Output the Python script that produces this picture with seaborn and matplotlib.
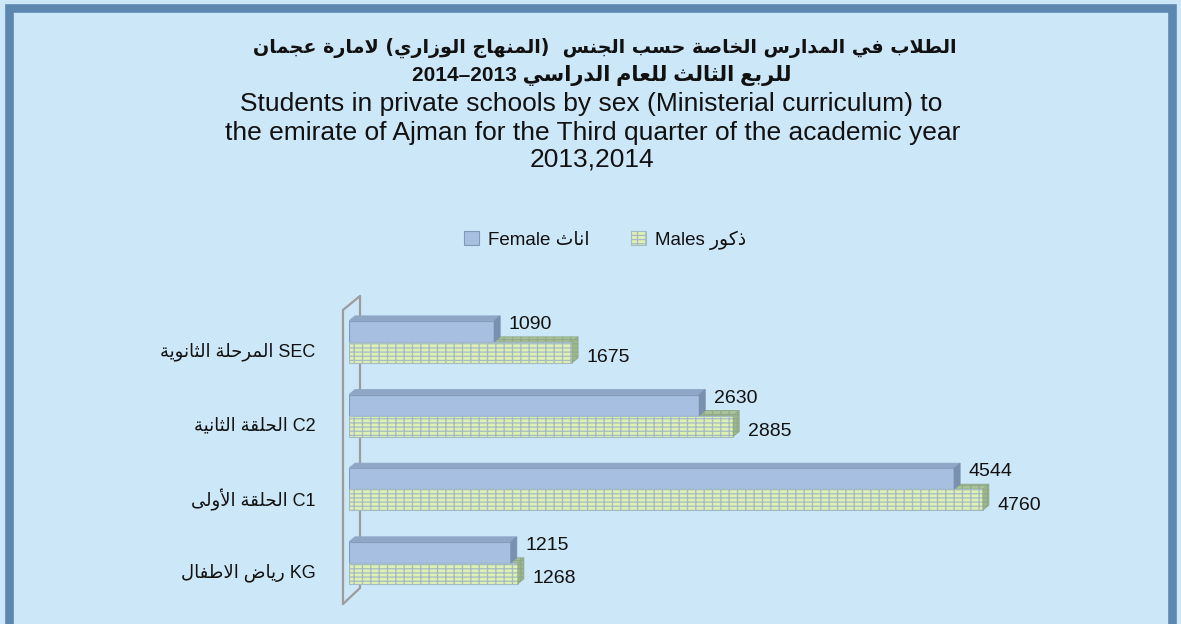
import matplotlib
matplotlib.use("Agg")
import matplotlib.pyplot as plt
import matplotlib.transforms as mtransforms
from matplotlib.patches import Polygon, Rectangle, Patch
from matplotlib.lines import Line2D
import pandas as pd
import seaborn as sns

# ---------------- data ----------------
levels = ["SEC", "C2", "C1", "KG"]
levels_ar = ["المرحلة الثانوية", "الحلقة الثانية", "الحلقة الأولى", "رياض الاطفال"]
female = [1090, 2630, 4544, 1215]
males = [1675, 2885, 4760, 1268]
series = ["Female", "Males"]
series_ar = ["اناث", "ذكور"]

title_ar1 = "الطلاب في المدارس الخاصة حسب الجنس  (المنهاج الوزاري) لامارة عجمان"
title_ar2 = "للربع الثالث للعام الدراسي"
title_years = "2014–2013"
title_en = ["Students in private schools by sex (Ministerial curriculum) to",
            "the emirate of Ajman for the Third quarter of the academic year",
            "2013,2014"]

# ---------------- minimal Arabic shaping (visual order) ----------------
TWO = {'آ': 0xFE81, 'أ': 0xFE83, 'ؤ': 0xFE85, 'إ': 0xFE87, 'ا': 0xFE8D, 'ة': 0xFE93,
       'د': 0xFEA9, 'ذ': 0xFEAB, 'ر': 0xFEAD, 'ز': 0xFEAF, 'و': 0xFEED, 'ى': 0xFEEF}
FOUR = {'ئ': 0xFE89, 'ب': 0xFE8F, 'ت': 0xFE95, 'ث': 0xFE99, 'ج': 0xFE9D, 'ح': 0xFEA1,
        'خ': 0xFEA5, 'س': 0xFEB1, 'ش': 0xFEB5, 'ص': 0xFEB9, 'ض': 0xFEBD, 'ط': 0xFEC1,
        'ظ': 0xFEC5, 'ع': 0xFEC9, 'غ': 0xFECD, 'ف': 0xFED1, 'ق': 0xFED5, 'ك': 0xFED9,
        'ل': 0xFEDD, 'م': 0xFEE1, 'ن': 0xFEE5, 'ه': 0xFEE9, 'ي': 0xFEF1}
LAMALEF = {'آ': 0xFEF5, 'أ': 0xFEF7, 'إ': 0xFEF9, 'ا': 0xFEFB}


def shape(s):
    toks = []
    i = 0
    while i < len(s):
        c = s[i]
        if c == 'ل' and i + 1 < len(s) and s[i + 1] in LAMALEF:
            toks.append(('2', LAMALEF[s[i + 1]]))
            i += 2
            continue
        if c in FOUR:
            toks.append(('4', FOUR[c]))
        elif c in TWO:
            toks.append(('2', TWO[c]))
        else:
            toks.append(('x', c))
        i += 1
    out = []
    for j, (k, b) in enumerate(toks):
        if k == 'x':
            out.append(b)
            continue
        prev = j > 0 and toks[j - 1][0] == '4'
        nxt = k == '4' and j + 1 < len(toks) and toks[j + 1][0] in '24'
        if prev and nxt:
            cp = b + 3
        elif prev:
            cp = b + 1
        elif nxt:
            cp = b + 2
        else:
            cp = b
        out.append(chr(cp))
    return ''.join(out)


def rtl(s):
    v = shape(s)[::-1]
    return v.translate(str.maketrans({'(': ')', ')': '('}))


# ---------------- style ----------------
W, H = 1181, 624
BG = "#cce7f7"
BORDER = "#5b87b0"
FEM = "#a7bfe1"
FEM_EDGE = "#8298b8"
FEM_TOP = "#8fa6c6"
FEM_SIDE = "#7a90af"
MAL = "#e0efb2"
MAL_EDGE = "#a3bcc4"
MAL_TOP = "#aac496"
MAL_SIDE = "#9db98a"
TXT = "#111111"

sns.set_theme(style="white")
plt.rcParams["font.family"] = ["Liberation Sans", "DejaVu Sans"]
plt.rcParams["hatch.linewidth"] = 0.9

fig = plt.figure(figsize=(W / 100, H / 100), dpi=100, facecolor=BG)


def fx(x):
    return x / W


def fy(y):
    return 1 - y / H


ax = fig.add_axes([fx(349), (H - 607) / H, 799 / W, 313 / H])
ax.set_facecolor("none")

df = pd.DataFrame({
    "level": levels * 2,
    "sex": [series[0]] * len(levels) + [series[1]] * len(levels),
    "students": female + males,
})

sns.barplot(data=df, x="students", y="level", hue="sex", order=levels,
            hue_order=series, palette={series[0]: FEM, series[1]: MAL},
            orient="h", width=0.57, saturation=1, legend=False,
            errorbar=None, ax=ax)

XMAX = 6000
ax.set_xlim(0, XMAX)
ax.set_ylim(3.6, -0.65)

px_x = 799 / XMAX          # px per data unit (x)
px_y = 313 / 4.25          # px per data unit (y)
dx = 6 / px_x
dy = 5 / px_y

fem_bars = ax.containers[0]
mal_bars = ax.containers[1]

for r in fem_bars:
    r.set_edgecolor(FEM_EDGE)
    r.set_linewidth(0.8)
    r.set_zorder(3)
for r in mal_bars:
    r.set_edgecolor(MAL_EDGE)
    r.set_linewidth(0.8)
    r.set_hatch("----||")
    r.set_zorder(3)


def faces(r, top_c, side_c, z_top, z_side, hatch=None, edge=None):
    w = r.get_width()
    yt = r.get_y()
    yb = yt + r.get_height()
    top = Polygon([(0, yt), (w, yt), (w + dx, yt - dy), (dx, yt - dy)], closed=True,
                  facecolor=top_c, edgecolor=edge or top_c, lw=0.6, zorder=z_top,
                  hatch=hatch)
    side = Polygon([(w, yt), (w + dx, yt - dy), (w + dx, yb - dy), (w, yb)], closed=True,
                   facecolor=side_c, edgecolor=edge or side_c, lw=0.6, zorder=z_side,
                   hatch=hatch)
    ax.add_patch(top)
    ax.add_patch(side)


for r in mal_bars:
    faces(r, MAL_TOP, MAL_SIDE, 1, 3.1, hatch="----||", edge="#8fa98a")
for r in fem_bars:
    faces(r, FEM_TOP, FEM_SIDE, 3.2, 3.2)

# value labels
for bars, vals, voff in ((fem_bars, female, 5), (mal_bars, males, -4)):
    for r, v in zip(bars, vals):
        ax.annotate(f"{v}", xy=(r.get_width(), r.get_y() + r.get_height() / 2),
                    xytext=(10.5, voff), textcoords="offset points",
                    ha="left", va="center", fontsize=14, color=TXT, zorder=5,
                    annotation_clip=False)

# axes cosmetics
for s in ax.spines.values():
    s.set_visible(False)
ax.set_xticks([])
ax.set_xlabel("")
ax.set_ylabel("")
ax.set_yticks(range(len(levels)),
              labels=[rtl(a) + " " + e for a, e in zip(levels_ar, levels)])
ax.tick_params(axis="y", length=0, pad=24, labelsize=13, labelcolor=TXT)
off = mtransforms.ScaledTranslation(0, -0.08, fig.dpi_scale_trans)
for lab in ax.get_yticklabels():
    lab.set_transform(lab.get_transform() + off)

# 3D wall (decoration)
wall_c = "#9c9c9c"
for (x1, y1, x2, y2) in [(343, 310, 343, 604), (343, 310, 360, 296),
                          (360, 296, 360, 588), (343, 604, 360, 588)]:
    ax.add_line(Line2D([fx(x1), fx(x2)], [fy(y1), fy(y2)], transform=fig.transFigure,
                       color=wall_c, lw=1.6, zorder=0.5, clip_on=False))

# legend
handles = [Patch(facecolor=FEM, edgecolor=FEM_EDGE, lw=0.8),
           Patch(facecolor=MAL, edgecolor=MAL_EDGE, lw=0.8, hatch="----||")]
labels = [f"{e} {rtl(a)}" for e, a in zip(series, series_ar)]
fig.legend(handles, labels, loc="center", bbox_to_anchor=(fx(605), fy(240)),
           ncol=2, frameon=False, fontsize=13.5, handlelength=0.8, handleheight=0.8,
           handletextpad=0.5, columnspacing=2.2, labelcolor=TXT)

# titles
fig.text(fx(605), fy(48), rtl(title_ar1), ha="center", va="center",
         fontsize=13.8, fontweight="bold", color=TXT, family=["DejaVu Sans"])
fig.text(fx(602), fy(76), title_years + " " + rtl(title_ar2), ha="center", va="center",
         fontsize=15, fontweight="bold", color=TXT, family=["Liberation Sans", "DejaVu Sans"])
for y, t, xc in zip((104, 133, 160), title_en, (591, 593, 592)):
    fig.text(fx(xc), fy(y), t, ha="center", va="center", fontsize=19, color=TXT)

# frame border
fig.patches.append(Rectangle((fx(9), fy(640)), fx(1172) - fx(9), fy(7.5) - fy(640),
                             transform=fig.transFigure, fill=False,
                             edgecolor=BORDER, lw=6.2, zorder=10))

fig.savefig("out.png", dpi=100, facecolor=BG)
